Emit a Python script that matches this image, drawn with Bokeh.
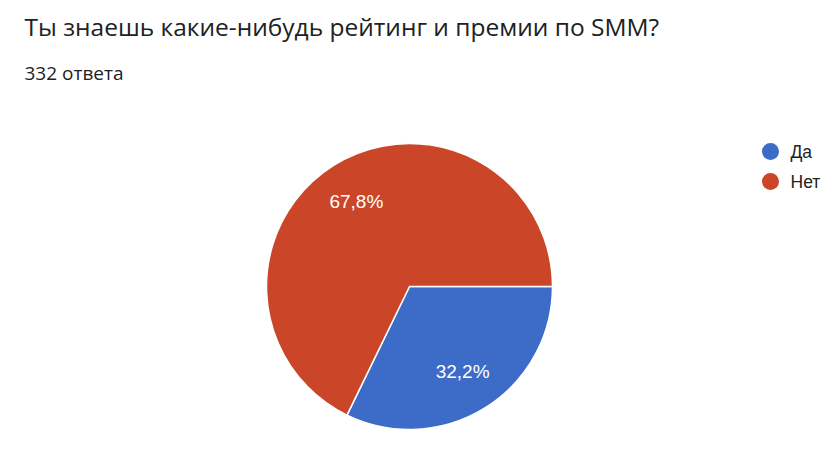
import numpy as np
from bokeh.plotting import figure
from bokeh.models import Range1d
from bokeh.core.properties import value
from bokeh.embed import file_html
from bokeh.resources import INLINE

title = "Ты знаешь какие-нибудь рейтинг и премии по SMM?"
subtitle = "332 ответа"
categories = ["Да", "Нет"]
shares = [32.2, 67.8]
labels = ["32,2%", "67,8%"]
colors = ["#3d6bc8", "#cb4628"]

W, H = 836, 462
p = figure(width=W, height=H, output_backend="svg", toolbar_location=None,
           x_range=Range1d(0, W), y_range=Range1d(0, H), min_border=0)
p.axis.visible = False
p.grid.visible = False
p.outline_line_color = None
p.background_fill_color = "white"
p.border_fill_color = "white"

cx, cy, r = 409, 176, 143
fr = np.array(shares) / sum(shares)
# Blue goes clockwise from 3 o'clock, red anticlockwise
angles_start = [-fr[0] * 2 * np.pi, 0.0]
angles_end = [0.0, fr[1] * 2 * np.pi]
p.wedge(x=[cx, cx], y=[cy, cy], radius=r, start_angle=angles_start, end_angle=angles_end,
        fill_color=colors, line_color="white", line_width=1.5)

mids = [(a + b) / 2 for a, b in zip(angles_start, angles_end)]
lx = [cx + 0.7 * r * np.cos(m) for m in mids]
ly = [cy + 0.7 * r * np.sin(m) for m in mids]
p.text(x=lx, y=ly, text=labels, text_color="white", text_font=value("Liberation Sans"),
       text_font_size="19px", text_align="center", text_baseline="middle")

p.text(x=[24], y=[436], text=[title], text_font=value("Open Sans"), text_font_size="24.5px",
       text_color="#202124", text_baseline="alphabetic")
p.text(x=[24], y=[390], text=[subtitle], text_font=value("Open Sans"), text_font_size="19px",
       text_color="#202124", text_baseline="alphabetic")

ly_leg = [311, 281]
p.scatter(x=[770, 770], y=ly_leg, size=17, marker="circle", fill_color=colors, line_color=None)
p.text(x=[790, 790], y=ly_leg, text=categories, text_font=value("Liberation Sans"),
       text_font_size="17.5px", text_color="#222222", text_baseline="middle")

open("out.html", "w").write(file_html(p, INLINE))
